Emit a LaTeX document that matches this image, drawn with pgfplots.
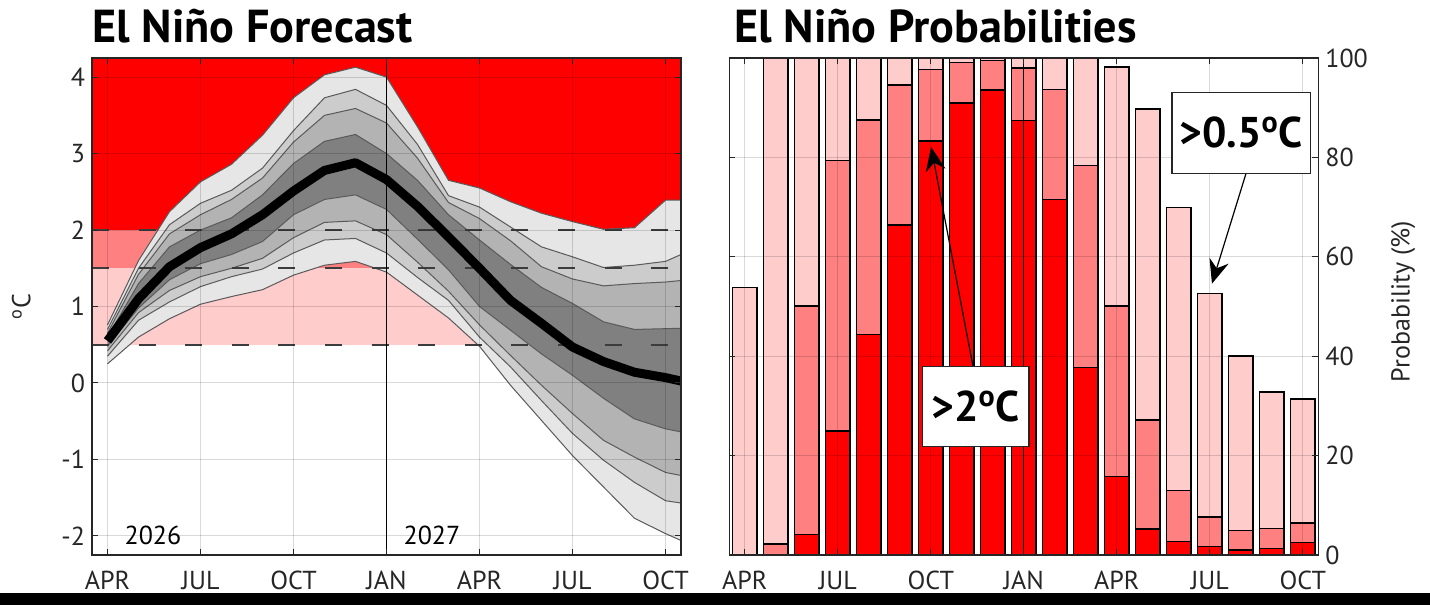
\documentclass[border=0pt]{standalone}
\usepackage{fontspec}
\setmainfont{PT Sans}
\usepackage{pgfplots}
\pgfplotsset{compat=1.18}
\usepackage{pgfplotstable}
\usepgfplotslibrary{fillbetween}
\usetikzlibrary{arrows.meta}

\definecolor{hot}{RGB}{255,0,0}
\definecolor{warm}{RGB}{255,128,128}
\definecolor{mild}{RGB}{255,204,204}
\definecolor{band1}{RGB}{230,230,230}
\definecolor{band2}{RGB}{204,204,204}
\definecolor{band3}{RGB}{179,179,179}
\definecolor{band4}{RGB}{128,128,128}
\definecolor{edge}{RGB}{90,90,90}
\definecolor{frame}{RGB}{38,38,38}
\definecolor{dashc}{RGB}{60,60,60}

% Nino 3.4 anomaly plume, months after April 2026 (percentile curves)
\pgfplotstableread{
m   p0     p1     p2     p3     med    p5    p6    p7    p8
0   0.25   0.35   0.42   0.48   0.55   0.60  0.65  0.70  0.76
1   0.60   0.82   0.92   0.98   1.10   1.30  1.42  1.50  1.60
2   0.84   1.06   1.21   1.35   1.52   1.78  1.95  2.07  2.24
3   1.03   1.26   1.39   1.56   1.77   2.00  2.20  2.35  2.63
4   1.13   1.39   1.50   1.68   1.95   2.16  2.40  2.52  2.86
5   1.22   1.49   1.63   1.85   2.20   2.46  2.68  2.81  3.24
6   1.41   1.70   1.90   2.20   2.51   2.87  3.15  3.30  3.73
7   1.54   1.87   2.10   2.40   2.78   3.16  3.50  3.73  4.03
8   1.59   1.89   2.12   2.46   2.88   3.25  3.59  3.84  4.13
9   1.45   1.70   1.94   2.27   2.66   3.00  3.40  3.63  4.00
10  1.15   1.38   1.58   1.88   2.31   2.65  2.94  3.12  3.35
11  0.85   1.08   1.20   1.48   1.91   2.20  2.36  2.45  2.65
12  0.48   0.60   0.76   1.00   1.50   1.87  2.15  2.30  2.55
13  -0.03  0.21   0.36   0.69   1.08   1.55  1.86  2.04  2.37
14  -0.49  -0.23  -0.03  0.38   0.78   1.25  1.52  1.78  2.22
15  -0.95  -0.66  -0.40  0.10   0.47   1.04  1.36  1.65  2.11
16  -1.36  -1.01  -0.75  -0.20  0.28   0.80  1.27  1.51  2.01
17  -1.77  -1.30  -0.97  -0.47  0.14   0.70  1.30  1.54  2.03
18  -1.97  -1.54  -1.17  -0.60  0.07   0.71  1.32  1.59  2.39
19  -2.15  -1.60  -1.25  -0.68  -0.02  0.72  1.36  1.77  2.39
}\plume

% Probability (%) of exceeding 0.5, 1.5 and 2 degC
\pgfplotstableread{
m   gt05   gt15   gt2
0   53.8   0.0    0.0
1   100    2.2    0.0
2   100    50.1   4.1
3   100    79.4   24.9
4   100    87.5   44.4
5   100    94.6   66.4
6   100    97.7   83.3
7   100    99.1   90.9
8   100    99.5   93.6
9   100    98.0   87.4
10  100    93.7   71.5
11  100    78.4   37.7
12  98.2   50.1   15.8
13  89.7   27.2   5.2
14  69.9   13.0   2.7
15  52.6   7.7    1.7
16  40.0   4.9    1.0
17  32.8   5.3    1.3
18  31.4   6.4    2.5
}\probs

\pgfplotsset{
  panel/.style={
    scale only axis, width=294.5pt, height=248.5pt,
    anchor=south west,
    xmin=-0.5, xmax=18.5,
    xtick={0,3,...,18},
    xticklabels={APR,JUL,OCT,JAN,APR,JUL,OCT},
    tick label style={font=\fontsize{13}{15}\selectfont, text=black!85},
    xticklabel style={yshift=-4.5pt},
    major tick length=3pt,
    tick align=inside,
    tick style={frame, line width=0.5pt},
    axis line style={frame, line width=0.6pt},
    grid=major,
    major grid style={black, opacity=0.15, line width=0.5pt},
    axis on top,
  },
}

\begin{document}
\begin{tikzpicture}
\fill[black] (0pt,0pt) rectangle (715pt,6pt);

\node[anchor=base west, inner sep=0, font=\fontsize{23.1}{26}\bfseries\selectfont] at (46pt,281.4pt) {El Niño Forecast};
\node[anchor=base west, inner sep=0, font=\fontsize{23.1}{26}\bfseries\selectfont] at (367pt,281.4pt) {El Niño Probabilities};

\begin{axis}[panel, at={(46pt,25pt)},
  ymin=-2.25, ymax=4.25,
  ytick={-2,-1,0,1,2,3,4},
  yticklabels={-2,-1,0,1,2,3,4},
  every axis y label/.style={at={(axis description cs:-0.12,0.5)}, anchor=center, rotate=90,
    font=\fontsize{13}{15}\selectfont, text=black!85},
  ylabel={\textsuperscript{o}C},
]
  % threshold bands
  \addplot[name path=t05, draw=none] coordinates {(-0.5,0.5) (18.5,0.5)};
  \addplot[name path=t15, draw=none] coordinates {(-0.5,1.5) (18.5,1.5)};
  \addplot[name path=t20, draw=none] coordinates {(-0.5,2) (18.5,2)};
  \addplot[name path=ttop, draw=none] coordinates {(-0.5,4.25) (18.5,4.25)};
  \addplot[fill=hot,  draw=none] fill between[of=ttop and t20];
  \addplot[fill=warm, draw=none] fill between[of=t20 and t15];
  \addplot[fill=mild, draw=none] fill between[of=t15 and t05];

  \addplot[name path=c0, draw=none] table[x=m,y=p0]{\plume};
  \addplot[name path=c1, draw=none] table[x=m,y=p1]{\plume};
  \addplot[name path=c2, draw=none] table[x=m,y=p2]{\plume};
  \addplot[name path=c3, draw=none] table[x=m,y=p3]{\plume};
  \addplot[name path=c5, draw=none] table[x=m,y=p5]{\plume};
  \addplot[name path=c6, draw=none] table[x=m,y=p6]{\plume};
  \addplot[name path=c7, draw=none] table[x=m,y=p7]{\plume};
  \addplot[name path=c8, draw=none] table[x=m,y=p8]{\plume};

  \addplot[fill=band1, draw=none] fill between[of=c8 and c7];
  \addplot[fill=band2, draw=none] fill between[of=c7 and c6];
  \addplot[fill=band3, draw=none] fill between[of=c6 and c5];
  \addplot[fill=band4, draw=none] fill between[of=c5 and c3];
  \addplot[fill=band3, draw=none] fill between[of=c3 and c2];
  \addplot[fill=band2, draw=none] fill between[of=c2 and c1];
  \addplot[fill=band1, draw=none] fill between[of=c1 and c0];

  \addplot[edge, line width=0.5pt] table[x=m,y=p0]{\plume};
  \addplot[edge, line width=0.5pt] table[x=m,y=p1]{\plume};
  \addplot[edge, line width=0.5pt] table[x=m,y=p2]{\plume};
  \addplot[edge, line width=0.5pt] table[x=m,y=p3]{\plume};
  \addplot[edge, line width=0.5pt] table[x=m,y=p5]{\plume};
  \addplot[edge, line width=0.5pt] table[x=m,y=p6]{\plume};
  \addplot[edge, line width=0.5pt] table[x=m,y=p7]{\plume};
  \addplot[edge, line width=0.5pt] table[x=m,y=p8]{\plume};

  \addplot[dashc, line width=0.9pt, dash pattern=on 8.5pt off 14.8pt] coordinates {(-0.5,2) (18.5,2)};
  \addplot[dashc, line width=0.9pt, dash pattern=on 8.5pt off 14.8pt] coordinates {(-0.5,1.5) (18.5,1.5)};
  \addplot[dashc, line width=0.9pt, dash pattern=on 8.5pt off 14.8pt] coordinates {(-0.5,0.5) (18.5,0.5)};

  \addplot[black, line width=4.5pt, line join=round] table[x=m,y=med]{\plume};
  \addplot[black, line width=0.6pt] coordinates {(9,-2.25) (9,4.25)};

  \node[anchor=west, inner sep=0, font=\fontsize{13}{15}\selectfont] at (axis cs:0.54,-2.0) {2026};
  \node[anchor=west, inner sep=0, font=\fontsize{13}{15}\selectfont] at (axis cs:9.54,-2.0) {2027};
\end{axis}

\begin{axis}[panel, at={(364.65pt,25pt)},
  ymin=0, ymax=100,
  ytick={0,20,...,100},
  yticklabels={0,20,40,60,80,100},
  yticklabel pos=right,
  every axis y label/.style={at={(axis description cs:1.144,0.51)}, anchor=center, rotate=90,
    font=\fontsize{13}{15}\selectfont, text=black!85},
  ylabel={Probability (\%)},
]
  \addplot[ybar, bar width=0.8, bar shift=0pt, fill=mild, draw=black, line width=0.8pt] table[x=m,y=gt05]{\probs};
  \addplot[ybar, bar width=0.8, bar shift=0pt, fill=warm, draw=black, line width=0.8pt] table[x=m,y=gt15]{\probs};
  \addplot[ybar, bar width=0.8, bar shift=0pt, fill=hot,  draw=black, line width=0.8pt] table[x=m,y=gt2]{\probs};
  \addplot[black, line width=0.6pt] coordinates {(9,0) (9,100)};

  \coordinate (tipA)  at (axis cs:6.01,82.1);
  \coordinate (tailA) at (axis cs:7.36,38.0);
  \coordinate (boxA)  at (axis cs:7.45,29.95);
  \coordinate (tipB)  at (axis cs:15.07,54.6);
  \coordinate (tailB) at (axis cs:16.17,76.8);
  \coordinate (boxB)  at (axis cs:16.01,84.95);
\end{axis}

\draw[-{Stealth[length=12pt,width=10pt,inset=4pt]}, line width=0.6pt] (tailA) -- (tipA);
\draw[-{Stealth[length=12pt,width=10pt,inset=4pt]}, line width=0.6pt] (tailB) -- (tipB);
\node[draw=black!85, fill=white, line width=0.6pt, inner sep=0, minimum width=53.3pt, minimum height=40pt,
      font=\fontsize{21.5}{24}\bfseries\selectfont] at (boxA) {>2\textsuperscript{o}C};
\node[draw=black!85, fill=white, line width=0.6pt, inner sep=0, minimum width=69.2pt, minimum height=40.5pt,
      font=\fontsize{21.5}{24}\bfseries\selectfont] at (boxB) {>0.5\textsuperscript{o}C};

\path (0pt,0pt) rectangle (715pt,302.5pt);
\end{tikzpicture}
\end{document}
